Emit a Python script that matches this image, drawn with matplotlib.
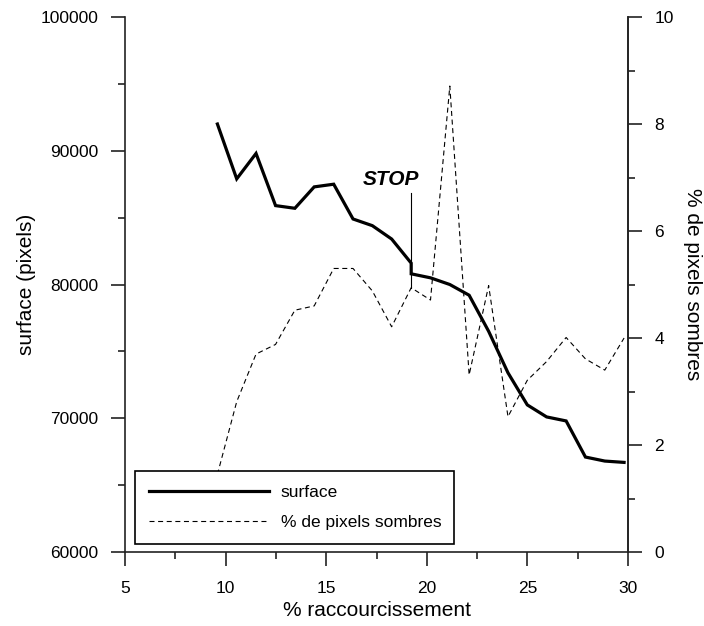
import matplotlib
matplotlib.use('Agg')
import matplotlib.pyplot as plt
from matplotlib.ticker import MultipleLocator
from matplotlib.lines import Line2D

plt.rcParams['font.family'] = ['Liberation Sans', 'DejaVu Sans']
plt.rcParams['lines.scale_dashes'] = False

# % raccourcissement
shortening = [9.59, 10.55, 11.51, 12.48, 13.44, 14.40, 15.37, 16.33, 17.29, 18.25,
              19.22, 20.18, 21.14, 22.10, 23.07, 24.03, 24.99, 25.95, 26.92, 27.88,
              28.84, 29.80]
# surface curve repeats the STOP abscissa (vertical drop)
surface_x = [9.59, 10.55, 11.51, 12.48, 13.44, 14.40, 15.37, 16.33, 17.29, 18.25,
             19.22, 19.22, 20.18, 21.14, 22.10, 23.07, 24.03, 24.99, 25.95, 26.92,
             27.88, 28.84, 29.80]
surface = [92000, 87900, 89800, 85900, 85700, 87300, 87500, 84900, 84400, 83400,
           81600, 80800, 80500, 80000, 79200, 76500, 73400, 71000, 70100, 69800,
           67100, 66800, 66700]
dark_pct = [1.45, 2.81, 3.70, 3.88, 4.52, 4.60, 5.30, 5.30, 4.88, 4.21,
            4.94, 4.71, 8.71, 3.31, 4.98, 2.53, 3.21, 3.56, 4.01, 3.61,
            3.40, 4.00]
stop_x = [19.22, 19.22]
stop_y = [6.71, 4.94]

fig = plt.figure(figsize=(7.04, 6.26), dpi=100)
ax = fig.add_axes([0.1776, 0.1182, 0.7146, 0.8546])
ax2 = ax.twinx()

ax.plot(surface_x, surface, color='black', lw=2.3, solid_joinstyle='miter')
ax2.plot(shortening, dark_pct, color='black', lw=0.8, linestyle=(0, (3.6, 2.6)))
ax2.plot(stop_x, stop_y, color='black', lw=0.8)
ax2.text(18.21, 6.86, 'STOP', fontsize=15, fontweight='bold', fontstyle='italic',
         ha='center', va='baseline')

ax.set_xlim(5, 30)
ax.set_ylim(60000, 100000)
ax2.set_ylim(0, 10)

ax.xaxis.set_major_locator(MultipleLocator(5))
ax.xaxis.set_minor_locator(MultipleLocator(2.5))
ax.yaxis.set_major_locator(MultipleLocator(10000))
ax.yaxis.set_minor_locator(MultipleLocator(5000))
ax2.yaxis.set_major_locator(MultipleLocator(2))
ax2.yaxis.set_minor_locator(MultipleLocator(1))

for a in (ax, ax2):
    a.spines['top'].set_visible(False)
    for s in a.spines.values():
        s.set_linewidth(1.2)
        s.set_color('#222222')
    a.tick_params(which='major', length=10, width=1.2, color='#222222',
                  labelsize=12.5, pad=9)
    a.tick_params(which='minor', length=5, width=1.2, color='#222222')
ax.tick_params(axis='x', which='major', pad=11)
ax2.spines['left'].set_visible(False)
ax2.spines['bottom'].set_visible(False)

ax.set_xlabel('% raccourcissement', fontsize=15)
ax.set_ylabel('surface (pixels)', fontsize=15)
ax2.set_ylabel('% de pixels sombres', fontsize=15, rotation=270, va='bottom')
ax.xaxis.set_label_coords(0.5, -0.0916)
ax.yaxis.set_label_coords(-0.177, 0.5)
ax2.yaxis.set_label_coords(1.109, 0.5)

handles = [Line2D([], [], color='black', lw=2.3),
           Line2D([], [], color='black', lw=0.8, linestyle=(0, (3.6, 2.6)))]
leg = ax2.legend(handles, ['surface', '% de pixels sombres'], loc='lower left',
                 bbox_to_anchor=(0.0199, 0.015, 0.634, 0.133), mode='expand',
                 borderaxespad=0, fontsize=12.5, handlelength=6.9,
                 handletextpad=0.69, labelspacing=0.84, borderpad=0.8,
                 fancybox=False, framealpha=1, edgecolor='black')
leg.get_frame().set_linewidth(1.2)

fig.savefig('out.png', dpi=100)
